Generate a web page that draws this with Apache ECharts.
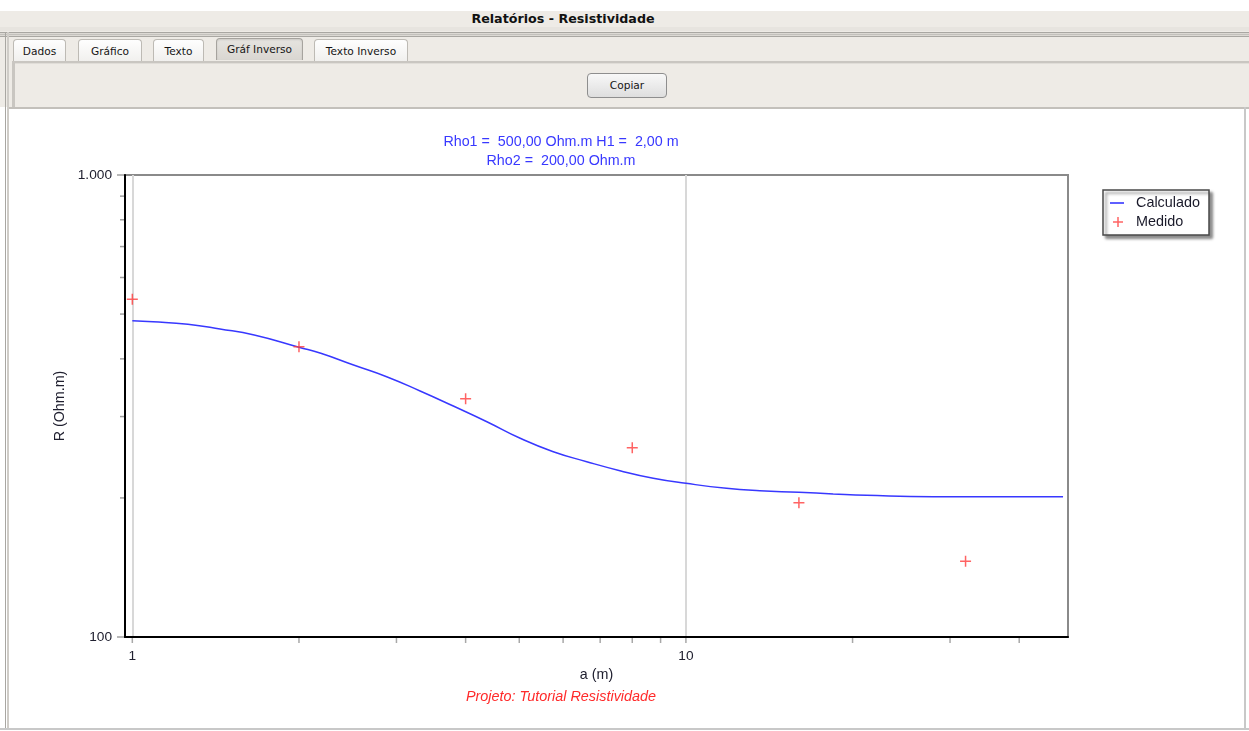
<!DOCTYPE html>
<html lang="pt-BR">
<head>
<meta charset="utf-8">
<title>Relatórios - Resistividade</title>
<script src="https://cdn.jsdelivr.net/npm/echarts@6.0.0/dist/echarts.min.js"></script>
<style>
html,body{margin:0;padding:0;}
body{width:1249px;height:731px;overflow:hidden;background:#fff;position:relative;font-family:"DejaVu Sans",Verdana,sans-serif;}
.a{position:absolute;box-sizing:border-box;}
#topband{left:0;top:11px;width:1249px;height:96px;background:#eeebe6;}
#band2{left:0;top:27px;width:1249px;height:4px;background:#e7e4df;}
#dbl{left:0;top:32px;width:1249px;height:5px;background:#dcd9d4;border-top:1px solid #a9a7a2;border-bottom:1px solid #a9a7a2;}
#dblmid{left:0;top:34px;width:1249px;height:1px;background:#c3c1bc;}
#ttl{left:563px;top:11px;transform:translateX(-50%);font-weight:bold;font-size:12.7px;line-height:16px;color:#111;white-space:nowrap;}
.tab{top:39px;height:22px;border:1px solid #bdbab4;border-bottom:none;border-radius:4px 4px 0 0;background:linear-gradient(#fefefe,#f1f0ee);font-size:10.6px;line-height:22px;text-align:center;color:#151515;white-space:nowrap;}
.tab.sel{top:38px;height:22px;line-height:20px;border-color:#a6a39e;background:linear-gradient(#e6e4e0,#d9d6d1);box-shadow:inset 0 1px 2px rgba(0,0,0,0.12);}
#sep1{left:12px;top:61px;width:1237px;height:3px;background:#c9c6c1;border-bottom:1px solid #e0ddd8;}
#sep2{left:9px;top:107px;width:1240px;height:2px;background:#c3c0bb;}
#panelL{left:12px;top:61px;width:3px;height:47px;background:#c9c6c1;}
#frameL1{left:5px;top:32px;width:1px;height:697px;background:#a9a7a2;}
#frameL2{left:7px;top:32px;width:2px;height:697px;background:#cfccc7;}
#frameR{left:1244px;top:107px;width:2px;height:622px;background:#c8c8c8;}
#frameB{left:0;top:728px;width:1249px;height:2px;background:#c8c8c8;}
#copiar{left:587px;top:73px;width:80px;height:25px;border:1px solid #8e8e8e;border-radius:4px;background:linear-gradient(#f8f8f8,#dedede);font-size:10.6px;line-height:23px;text-align:center;color:#151515;}
#chart{left:0;top:0;width:1249px;height:731px;z-index:5;}
</style>
</head>
<body>
<div class="a" id="topband"></div>
<div class="a" id="band2"></div>
<div class="a" id="dbl"></div>
<div class="a" id="dblmid"></div>
<div class="a" id="ttl">Relatórios - Resistividade</div>
<div class="a tab" style="left:13px;width:53px;">Dados</div>
<div class="a tab" style="left:78px;width:64px;">Gráfico</div>
<div class="a tab" style="left:153px;width:51px;">Texto</div>
<div class="a tab sel" style="left:216px;width:87px;">Gráf Inverso</div>
<div class="a tab" style="left:314px;width:94px;">Texto Inverso</div>
<div class="a" id="sep1"></div>
<div class="a" id="panelL"></div>
<div class="a" id="copiar">Copiar</div>
<div class="a" id="sep2"></div>
<div class="a" id="frameL1"></div>
<div class="a" id="frameL2"></div>
<div class="a" id="frameR"></div>
<div class="a" id="frameB"></div>
<div class="a" id="chart"></div>
<script>
// ---- data ----
const titleLines = ['Rho1 =  500,00 Ohm.m H1 =  2,00 m', 'Rho2 =  200,00 Ohm.m'];
const footText = 'Projeto: Tutorial Resistividade';
const xName = 'a (m)';
const yName = 'R (Ohm.m)';

// Calculado (model curve)
const calcA = [1, 1.09, 1.26, 1.44, 1.66, 2, 2.19, 2.51, 2.88, 3.31, 3.8, 4.37, 5.02, 5.76, 6.62, 7.6, 8.73, 10, 11.84, 13.6, 16, 18.45, 21.2, 27.95, 48];
const calcR = [483.8, 481.4, 475.2, 464.2, 450.5, 423.8, 411.3, 387.9, 365.9, 340.8, 316.2, 292.4, 269.2, 251.8, 239.6, 229.1, 220.6, 215.1, 209.8, 207.3, 205.7, 204.0, 202.6, 201.2, 201.2];

// Medido (measured)
const medA = [1, 2, 4, 8, 16, 32];
const medR = [538.2, 425.1, 328.0, 256.8, 195.3, 145.8];

// axis ticks / labels
const xTickVals = [1, 2, 3, 4, 5, 6, 7, 8, 9, 10, 20, 30, 40];
const xLabelVals = [1, 10];
const xLabelTexts = ['1', '10'];
const yTickVals = [100, 200, 300, 400, 500, 600, 700, 800, 900, 1000];
const yMajorVals = [100, 1000];
const yLabelVals = [100, 1000];
const yLabelTexts = ['100', '1.000'];

const FONT = '"Liberation Sans", Arial, sans-serif';
const BLUE = '#3838ff';
const RED = '#ff3c3c';
const plusSymbol = 'path://M4.75,0H6.25V4.75H11V6.25H6.25V11H4.75V6.25H0V4.75H4.75Z';
const legendLineIcon = 'path://M0,0M14,12M0,5.2H14V6.8H0Z';
const legendPlusIcon = 'path://M0,0M14,12M7.25,1H8.75V5.25H13V6.75H8.75V11H7.25V6.75H3V5.25H7.25Z';

function findLabel(v, vals, texts) {
  for (let i = 0; i < vals.length; i++) {
    if (Math.abs(vals[i] - v) < 1e-6 * vals[i]) return texts[i];
  }
  return '';
}

const chart = echarts.init(document.getElementById('chart'), null, {renderer: 'canvas'});
const option = {
  backgroundColor: 'transparent',
  animation: false,
  title: [
    {
      text: titleLines.join('\n'), left: 561, top: 133, textAlign: 'center', textVerticalAlign: 'top', padding: 0,
      textStyle: {fontFamily: FONT, fontSize: 14.3, fontWeight: 'normal', color: BLUE, lineHeight: 19}
    },
    {
      text: footText, left: 561, top: 689, textAlign: 'center', textVerticalAlign: 'top', padding: 0,
      textStyle: {fontFamily: FONT, fontSize: 14.4, fontWeight: 'normal', fontStyle: 'italic', color: '#ff2a2a', lineHeight: 15}
    }
  ],
  legend: {
    orient: 'vertical', left: 1103, top: 190,
    data: [{name: 'Calculado', icon: legendLineIcon}, {name: 'Medido', icon: legendPlusIcon}],
    itemWidth: 14, itemHeight: 12, itemGap: 3,
    padding: [5, 9, 5, 7],
    backgroundColor: '#fff', borderColor: '#4a4a4a', borderWidth: 1.5, borderRadius: 0,
    shadowColor: 'rgba(0,0,0,0.45)', shadowBlur: 3, shadowOffsetX: 3, shadowOffsetY: 3,
    itemStyle: {borderWidth: 0},
    selectedMode: false,
    textStyle: {fontFamily: FONT, fontSize: 14.4, color: '#1a1a2a', lineHeight: 16, padding: [0, 0, 0, 7]}
  },
  grid: {
    left: 125, top: 175, width: 943, height: 462,
    show: true, borderColor: '#8a8a8a', borderWidth: 2, backgroundColor: 'transparent', containLabel: false
  },
  xAxis: {
    type: 'log', logBase: 10, min: 0.97, max: 49,
    axisLine: {show: true, onZero: false, lineStyle: {color: '#000', width: 2}},
    axisTick: {show: false},
    minorTick: {show: false},
    axisLabel: {
      show: true, showMinLabel: false, showMaxLabel: false, margin: 12,
      formatter: v => findLabel(v, xLabelVals, xLabelTexts),
      fontFamily: FONT, fontSize: 13.7, color: '#202030'
    },
    splitLine: {show: true, showMinLine: false, showMaxLine: false, lineStyle: {color: '#d8d8d8', width: 2}},
    name: xName, nameLocation: 'middle', nameGap: 30,
    nameTextStyle: {fontFamily: FONT, fontSize: 14.3, color: '#202030'}
  },
  yAxis: {
    type: 'log', logBase: 10, min: 100, max: 1000,
    axisLine: {show: true, onZero: false, lineStyle: {color: '#000', width: 2}},
    axisTick: {show: false},
    minorTick: {show: false},
    axisLabel: {
      show: true, margin: 13,
      formatter: v => findLabel(v, yLabelVals, yLabelTexts),
      fontFamily: FONT, fontSize: 13.7, color: '#202030'
    },
    splitLine: {show: false},
    name: yName, nameLocation: 'middle', nameGap: 57, nameRotate: 90,
    nameTextStyle: {fontFamily: FONT, fontSize: 14.3, color: '#202030'}
  },
  series: [
    {
      name: 'xTicks', type: 'custom', silent: true, clip: false, z: 1,
      data: xTickVals.map(v => [v, 100]),
      renderItem: (params, api) => {
        const p = api.coord([api.value(0), api.value(1)]);
        const y0 = params.coordSys.y + params.coordSys.height;
        return {type: 'line', shape: {x1: p[0], y1: y0 + 1, x2: p[0], y2: y0 + 6}, style: {stroke: '#a8a8a8', lineWidth: 1.5}};
      }
    },
    {
      name: 'yTicks', type: 'custom', silent: true, clip: false, z: 1,
      data: yTickVals.map(v => [1, v]),
      renderItem: (params, api) => {
        const v = api.value(1);
        const p = api.coord([api.value(0), v]);
        const x0 = params.coordSys.x;
        const len = yMajorVals.indexOf(v) >= 0 ? 7 : 4;
        return {type: 'line', shape: {x1: x0 - 1 - len, y1: p[1], x2: x0 - 1, y2: p[1]}, style: {stroke: '#a0a0a0', lineWidth: 1.5}};
      }
    },
    {
      name: 'Calculado', type: 'line', z: 3,
      data: calcA.map((a, i) => [a, calcR[i]]),
      symbol: 'none', smooth: 0.5,
      lineStyle: {color: BLUE, width: 1.5},
      itemStyle: {color: BLUE}
    },
    {
      name: 'Medido', type: 'scatter', z: 4,
      data: medA.map((a, i) => [a, medR[i]]),
      symbol: plusSymbol, symbolSize: 11,
      itemStyle: {color: RED}
    }
  ]
};
chart.setOption(option);
</script>
</body>
</html>
